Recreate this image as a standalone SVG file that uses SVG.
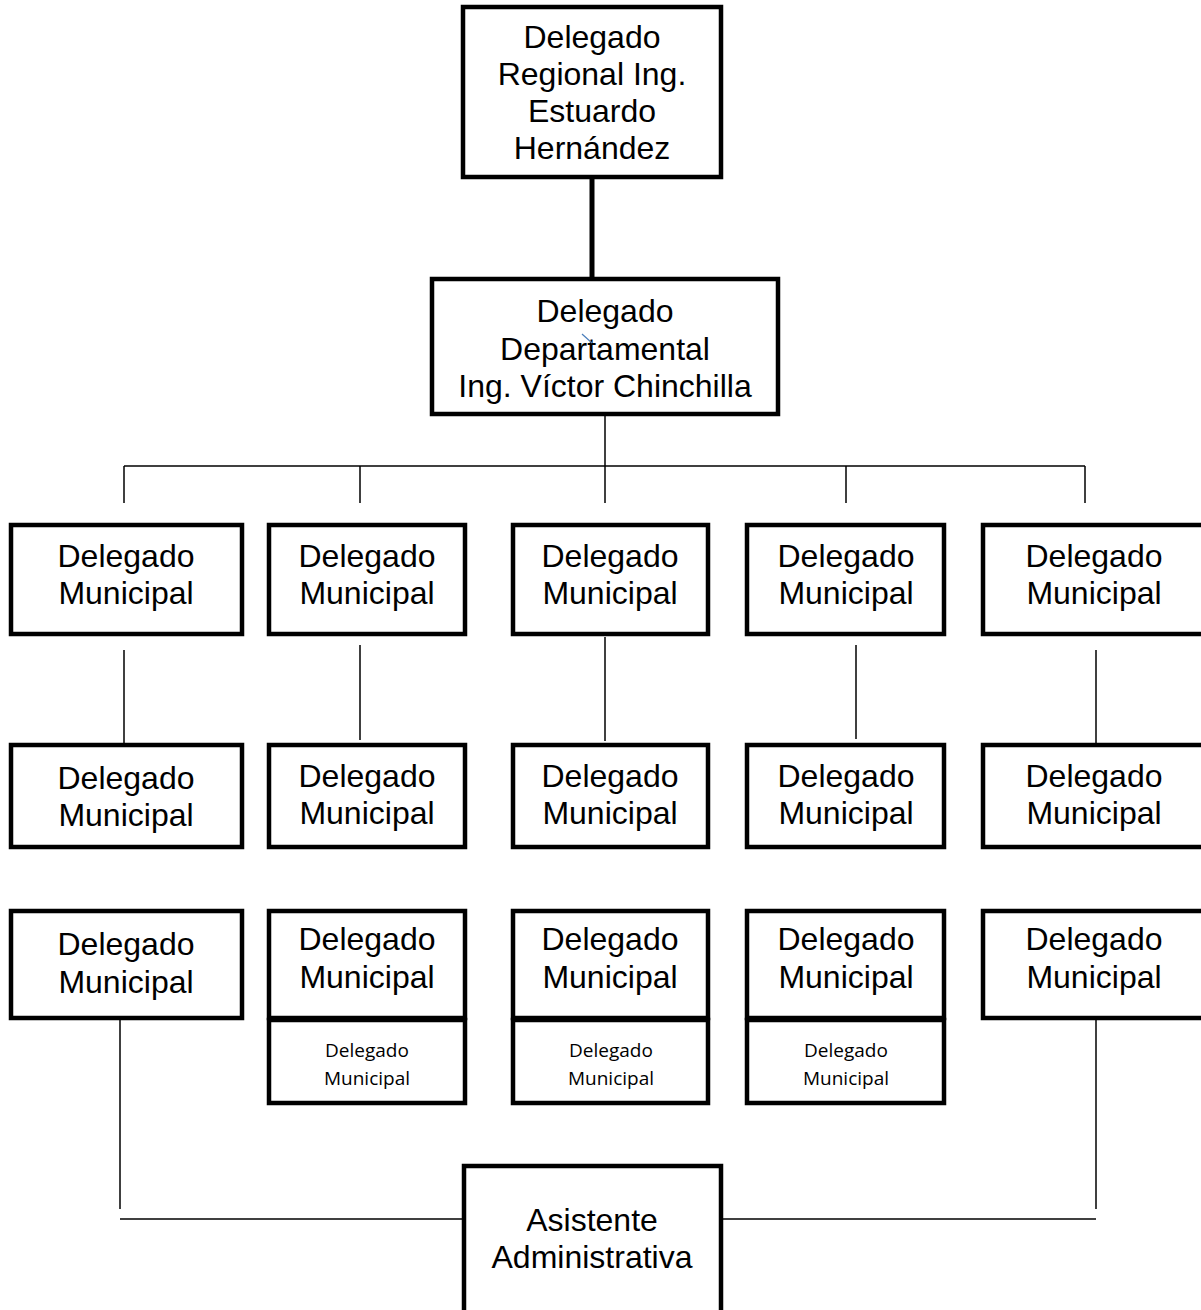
<svg xmlns="http://www.w3.org/2000/svg" width="1201" height="1310" viewBox="0 0 1201 1310">
<style>
.box{fill:#fff;stroke:#000;stroke-width:4.5}
.t{font-family:"Liberation Sans",Arial,sans-serif;font-size:32px;fill:#000;text-anchor:middle}
.s{font-family:"Open Sans","Noto Sans",sans-serif;font-size:19px;fill:#000;text-anchor:middle}
.ln{stroke:#000;stroke-width:1.5;fill:none}
.thick{stroke:#000;stroke-width:5;fill:none}
</style>
<rect width="1201" height="1310" fill="#fff"/>
<g id="connectors">
<line class="thick" x1="592" y1="179" x2="592" y2="277"/>
<line class="ln" x1="605" y1="416" x2="605" y2="503"/>
<line class="ln" x1="124" y1="466" x2="1085" y2="466"/>
<line class="ln" x1="124" y1="466" x2="124" y2="503"/>
<line class="ln" x1="360" y1="466" x2="360" y2="503"/>
<line class="ln" x1="846" y1="466" x2="846" y2="503"/>
<line class="ln" x1="1085" y1="466" x2="1085" y2="503"/>
<line class="ln" x1="124" y1="650" x2="124" y2="743"/>
<line class="ln" x1="360" y1="645" x2="360" y2="740"/>
<line class="ln" x1="605" y1="637" x2="605" y2="741"/>
<line class="ln" x1="856" y1="645" x2="856" y2="739"/>
<line class="ln" x1="1096" y1="650" x2="1096" y2="743"/>
<line class="ln" x1="120" y1="1019" x2="120" y2="1209"/>
<line class="ln" x1="1096" y1="1019" x2="1096" y2="1209"/>
<line class="ln" x1="120" y1="1219" x2="464" y2="1219"/>
<line class="ln" x1="721" y1="1219" x2="1096" y2="1219"/>
</g>
<g id="regional">
<rect class="box" x="463" y="7" width="258" height="170"/>
<text class="t" x="592" y="48">Delegado</text>
<text class="t" x="592" y="85">Regional Ing.</text>
<text class="t" x="592" y="122">Estuardo</text>
<text class="t" x="592" y="159">Hernández</text>
</g>
<g id="departamental">
<rect class="box" x="432" y="279" width="346" height="135"/>
<text class="t" x="605" y="322">Delegado</text>
<text class="t" x="605" y="360">Departamental</text>
<text class="t" x="605" y="397">Ing. Víctor Chinchilla</text>
<line x1="582" y1="334" x2="592" y2="343" stroke="#4a7ebb" stroke-width="1.2"/>
</g>
<g id="m1-1"><rect class="box" x="11" y="525" width="231" height="109"/><text class="t" x="126" y="567">Delegado</text><text class="t" x="126" y="604">Municipal</text></g>
<g id="m1-2"><rect class="box" x="269" y="525" width="196" height="109"/><text class="t" x="367" y="567">Delegado</text><text class="t" x="367" y="604">Municipal</text></g>
<g id="m1-3"><rect class="box" x="513" y="525" width="195" height="109"/><text class="t" x="610" y="567">Delegado</text><text class="t" x="610" y="604">Municipal</text></g>
<g id="m1-4"><rect class="box" x="747" y="525" width="197" height="109"/><text class="t" x="846" y="567">Delegado</text><text class="t" x="846" y="604">Municipal</text></g>
<g id="m1-5"><rect class="box" x="983" y="525" width="240" height="109"/><text class="t" x="1094" y="567">Delegado</text><text class="t" x="1094" y="604">Municipal</text></g>
<g id="m2-1"><rect class="box" x="11" y="745" width="231" height="102"/><text class="t" x="126" y="789">Delegado</text><text class="t" x="126" y="826">Municipal</text></g>
<g id="m2-2"><rect class="box" x="269" y="745" width="196" height="102"/><text class="t" x="367" y="787">Delegado</text><text class="t" x="367" y="824">Municipal</text></g>
<g id="m2-3"><rect class="box" x="513" y="745" width="195" height="102"/><text class="t" x="610" y="787">Delegado</text><text class="t" x="610" y="824">Municipal</text></g>
<g id="m2-4"><rect class="box" x="747" y="745" width="197" height="102"/><text class="t" x="846" y="787">Delegado</text><text class="t" x="846" y="824">Municipal</text></g>
<g id="m2-5"><rect class="box" x="983" y="745" width="240" height="102"/><text class="t" x="1094" y="787">Delegado</text><text class="t" x="1094" y="824">Municipal</text></g>
<g id="m3-1"><rect class="box" x="11" y="911" width="231" height="107"/><text class="t" x="126" y="955">Delegado</text><text class="t" x="126" y="993">Municipal</text></g>
<g id="m3-2"><rect class="box" x="269" y="911" width="196" height="107"/><text class="t" x="367" y="950">Delegado</text><text class="t" x="367" y="988">Municipal</text></g>
<g id="m3-3"><rect class="box" x="513" y="911" width="195" height="107"/><text class="t" x="610" y="950">Delegado</text><text class="t" x="610" y="988">Municipal</text></g>
<g id="m3-4"><rect class="box" x="747" y="911" width="197" height="107"/><text class="t" x="846" y="950">Delegado</text><text class="t" x="846" y="988">Municipal</text></g>
<g id="m3-5"><rect class="box" x="983" y="911" width="240" height="107"/><text class="t" x="1094" y="950">Delegado</text><text class="t" x="1094" y="988">Municipal</text></g>
<g id="s-2"><rect class="box" x="269" y="1020" width="196" height="83"/><text class="s" x="367" y="1057">Delegado</text><text class="s" x="367" y="1085">Municipal</text></g>
<g id="s-3"><rect class="box" x="513" y="1020" width="195" height="83"/><text class="s" x="611" y="1057">Delegado</text><text class="s" x="611" y="1085">Municipal</text></g>
<g id="s-4"><rect class="box" x="747" y="1020" width="197" height="83"/><text class="s" x="846" y="1057">Delegado</text><text class="s" x="846" y="1085">Municipal</text></g>
<g id="asistente">
<rect class="box" x="464" y="1166" width="257" height="160"/>
<text class="t" x="592" y="1231">Asistente</text>
<text class="t" x="592" y="1268">Administrativa</text>
</g>
</svg>
